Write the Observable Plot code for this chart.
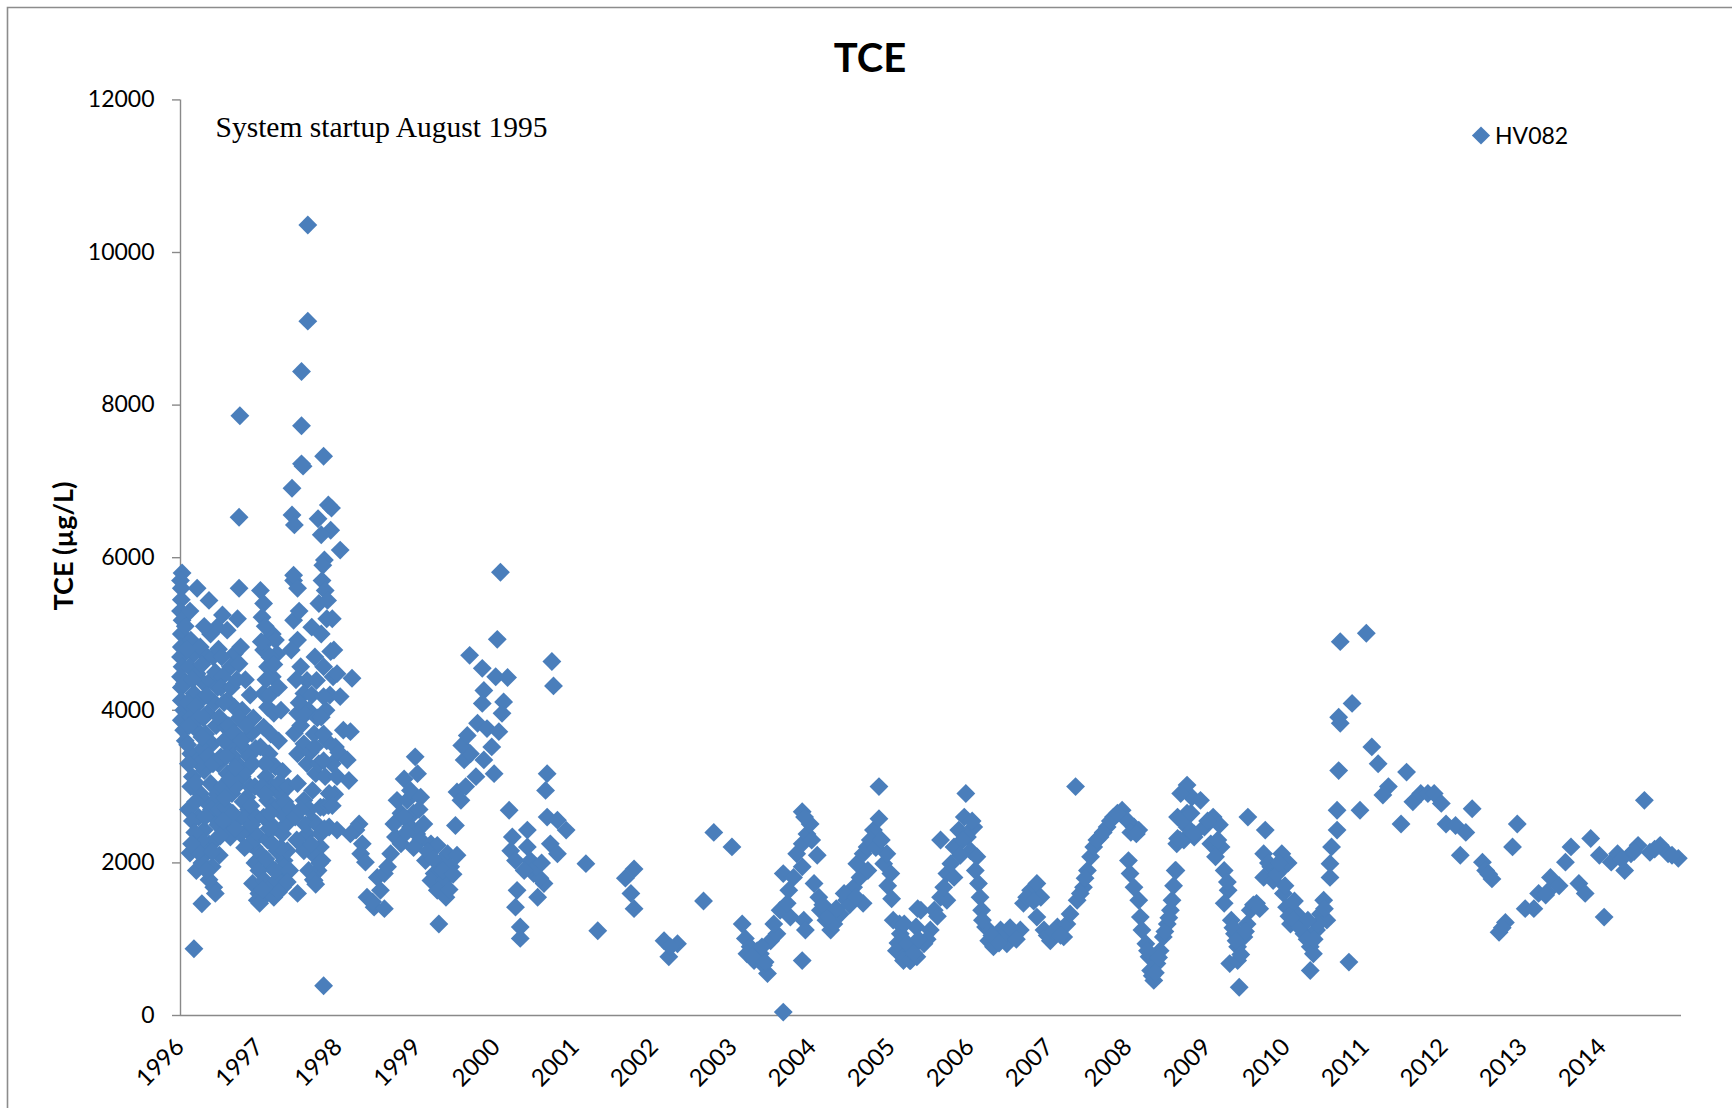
<!DOCTYPE html>
<html><head><meta charset="utf-8">
<script src="https://cdn.jsdelivr.net/npm/d3@7"></script>
<script src="https://cdn.jsdelivr.net/npm/@observablehq/plot@0.6"></script>
<style>
html,body{margin:0;padding:0;background:#fff;}
#chart{position:relative;width:1732px;height:1108px;overflow:hidden;}
</style>
</head><body><div id="chart"></div>
<script>
const chartTitle = "TCE";
const seriesName = "HV082";
const yAxisLabel = "TCE (µg/L)";
const noteText = "System startup August 1995";
const yTicks = [0, 2000, 4000, 6000, 8000, 10000, 12000];
const xTickYears = [1996,1997,1998,1999,2000,2001,2002,2003,2004,2005,2006,2007,2008,2009,2010,2011,2012,2013,2014];

// [decimal year, TCE µg/L]
const hv082_1996 = [
[1996.02,5800],[1996.00,5700],[1996.01,5600],[1996.01,5450],[1996.00,5300],[1996.02,5180],[1996.01,5000],[1996.01,4830],[1996.00,4700],[1996.02,4570],[1996.00,4440],[1996.01,4300],[1996.01,4130],[1996.04,4000],[1996.01,3870],[1996.04,3740],[1996.06,3600],
[1996.13,4920],[1996.17,4740],[1996.11,4570],[1996.21,4480],[1996.17,4220],[1996.13,3910],[1996.21,3740],[1996.13,3430],[1996.21,3340],[1996.15,3130],[1996.13,3000],
[1996.12,2130],[1996.20,1900],[1996.27,1465],[1996.17,875],
[1996.21,5600],[1996.36,5440],[1996.25,4830],[1996.34,4700],[1996.38,5000],[1996.46,5090],[1996.30,4350],[1996.38,4390],[1996.25,4130],[1996.34,3960],[1996.32,3690],[1996.40,3560],[1996.30,3210],[1996.38,3040],[1996.25,2910],[1996.34,2780],[1996.23,2600],[1996.42,2600],[1996.30,2430],[1996.36,2250],[1996.32,2120],[1996.40,1950],[1996.42,1680],[1996.44,1600],[1996.27,2000],[1996.36,1780],
[1996.10,2700],[1996.15,2550],[1996.19,2800],[1996.28,3500],[1996.24,3300],[1996.19,3050],[1996.45,3800],[1996.47,4300],[1996.43,4100],[1996.48,3300],[1996.46,2900],[1996.44,2300],[1996.49,2100],
[1996.06,5100],[1996.08,4800],[1996.05,4350],[1996.09,4100],[1996.10,3300],[1996.09,3550],[1996.11,3800],[1996.15,4400],[1996.19,4050],[1996.23,3900],[1996.27,4600],[1996.29,3900],[1996.33,4200],[1996.27,3650],[1996.35,3400],[1996.41,3300],[1996.43,2800],[1996.39,2700],[1996.31,2600],[1996.26,2300],[1996.22,2150],[1996.18,2400],[1996.14,2250],[1996.33,1900],[1996.40,2150],[1996.47,2500],[1996.49,2700],[1996.41,4700],[1996.44,4500],[1996.48,4800],[1996.30,5100],[1996.12,5300],
[1996.53,5250],[1996.72,5200],[1996.74,5600],[1996.74,6530],[1996.75,7860],[1996.59,5050],[1996.68,4740],[1996.63,4570],[1996.53,4440],[1996.51,4300],[1996.76,4830],[1996.74,4610],[1996.59,4130],[1996.68,4040],[1996.49,3910],[1996.57,3780],[1996.70,3690],[1996.63,3520],[1996.51,3390],[1996.72,3300],[1996.59,3170],[1996.78,3130],[1996.53,3000],[1996.65,2910],[1996.84,2860],[1996.57,2730],[1996.72,2560],[1996.84,2430],[1996.63,2340],[1996.76,2380],[1996.93,2210],[1996.97,2030],[1996.91,1730],[1996.99,1600],[1996.97,1510],
[1996.55,3600],[1996.61,3800],[1996.66,3400],[1996.70,3000],[1996.80,3500],[1996.82,3200],[1996.86,2700],[1996.80,2600],[1996.88,3000],[1996.90,2500],[1996.66,2650],[1996.60,2450],[1996.56,2850],[1996.78,4000],[1996.82,4400],[1996.88,4200],[1996.92,3900],[1996.95,3500],[1996.90,3700],
[1996.52,4700],[1996.55,4100],[1996.58,3400],[1996.62,3100],[1996.64,4300],[1996.67,3700],[1996.69,3250],[1996.71,4400],[1996.74,3900],[1996.77,3600],[1996.79,2800],[1996.83,3800],[1996.86,3400],[1996.89,2750],[1996.91,3300],[1996.94,3000],[1996.96,2600],[1996.98,2350],[1996.94,2000],[1996.88,2250],[1996.81,2200],[1996.69,2450],[1996.54,2550],[1996.50,2350]
];
const hv082_1997 = [
[1997.01,5570],[1997.05,5400],[1997.03,5220],[1997.10,4920],[1997.16,5000],[1997.05,4790],[1997.10,4570],[1997.16,4440],[1997.05,4220],[1997.20,4920],[1997.22,4740],[1997.10,4040],[1997.18,3960],[1997.05,3780],[1997.14,3690],[1997.24,3600],[1997.01,3520],[1997.12,3430],[1997.20,3260],[1997.08,3130],[1997.16,3000],[1997.26,2900],[1997.10,2820],[1997.22,2730],[1997.05,2600],[1997.18,2470],[1997.29,2380],[1997.10,2300],[1997.22,2160],[1997.31,2030],[1997.14,1950],[1997.25,1810],[1997.29,1680],[1997.10,1600],[1997.00,1470],[1997.48,1600],
[1996.99,1900],[1997.06,1770],[1997.14,1680],[1997.18,1550],[1997.22,1770],[1997.27,1860],[1997.31,1950],[1997.35,2160],[1997.27,2200],[1997.20,1900],[1997.03,2100],[1997.12,2450],[1997.33,2500],[1997.28,2650],
[1997.02,4900],[1997.07,5100],[1997.08,4400],[1997.13,4700],[1997.13,4200],[1997.18,4600],[1997.24,4300],[1997.27,4000],[1997.29,3200],[1997.25,3050],[1997.36,3000],[1997.32,2800],[1997.39,2700],[1997.15,3300],[1997.07,3300],[1997.03,3000],[1997.07,2900],[1997.13,2650],[1997.16,2250],[1997.08,2050],[1997.38,1900],[1997.35,1750],[1997.24,1620],[1997.04,1650],
[1997.41,6560],[1997.41,6910],[1997.44,6430],[1997.43,5700],[1997.43,5770],[1997.48,5600],[1997.43,5180],[1997.48,4920],[1997.40,4790],[1997.52,4570],[1997.60,4390],[1997.56,4220],[1997.48,3960],[1997.62,4000],[1997.69,3690],[1997.56,3560],[1997.48,3430],[1997.60,3300],[1997.71,3170],[1997.48,3040],[1997.67,2950],[1997.56,2820],[1997.77,2730],[1997.67,2560],[1997.60,2380],[1997.77,2210],[1997.71,2080],[1997.79,2030],[1997.69,1770],[1997.56,2160],[1997.45,2600],
[1997.46,4400],[1997.50,4100],[1997.44,3700],[1997.52,3800],[1997.58,3950],[1997.64,3450],[1997.66,4200],[1997.73,3900],[1997.75,3300],[1997.63,2700],[1997.52,2700],[1997.58,2500],[1997.73,2500],[1997.65,2250],[1997.74,1900],[1997.85,3600],[1997.92,3300],[1997.95,2900],[1997.84,4000],[1997.89,4200],[1997.85,5200],[1997.92,5200],[1997.70,4700],[1997.50,5300],[1997.47,2300],[1997.62,1900],
[1997.61,10360],[1997.61,9100],[1997.53,8440],[1997.53,7730],[1997.53,7230],[1997.55,7200],[1997.81,7330],[1997.87,6690],[1997.91,6650],[1997.90,6360],[1997.74,6510],[1997.78,6300],
[1997.82,5970],[1997.80,5900],[1997.79,5700],[1997.83,5570],[1997.75,5400],[1997.86,5440],[1997.66,5090],[1997.78,5000],[1997.90,4770],[1997.81,4570],[1997.72,4390],[1997.93,4440],[1997.81,4180],[1997.78,3910],[1997.81,3690],[1997.70,3520],[1997.81,3340],[1997.96,3520],[1997.83,3130],[1997.98,3130],[1997.88,2910],[1997.81,2730],[1997.88,2470],[1997.98,2430],[1997.77,2380],[1997.87,2750],[1997.82,2450],[1997.76,2000],[1997.68,1780],[1997.71,1720],[1997.81,390]
];
const hv082_1998_2000 = [
[1998.02,6100],[1997.94,4790],[1997.98,4480],[1998.17,4420],[1998.02,4180],[1998.06,3740],[1998.15,3720],[1998.00,3450],[1998.11,3350],[1998.13,3080],[1997.92,2750],[1998.26,2510],[1998.22,2430],[1998.30,2250],[1998.28,2120],[1998.34,2010],[1998.15,2380],[1998.36,1550],[1998.45,1420],[1998.43,1490],[1998.49,1810],[1998.53,1640],[1998.58,1860],[1998.58,1400],[1998.62,1950],[1998.66,2120],[1998.72,2340],[1998.70,2510],[1998.79,2250],[1998.79,2650],[1998.74,2820],[1998.83,3100],[1998.87,2820],[1998.91,2950],[1998.95,2650],[1998.91,2470],[1998.97,3390],[1999.00,3170],[1999.04,2860],[1999.08,2510],[1998.99,2380],[1999.04,2300],[1999.17,2250],[1999.25,2230],[1999.10,2030],[1999.38,2120],[1999.50,2100],[1999.29,2010],[1999.21,1860],[1999.17,1770],[1999.34,1770],[1999.42,1950],[1999.36,1550],[1999.25,1640],[1999.27,1200],
[1998.83,2600],[1998.86,2400],[1998.95,2200],[1999.02,2700],[1999.13,2150],[1999.20,2050],[1999.32,1900],[1999.45,1850],[1999.40,1650],
[1999.48,2490],[1999.50,2930],[1999.55,2820],[1999.61,3000],[1999.74,3130],[1999.59,3350],[1999.67,3430],[1999.84,3350],[1999.97,3170],[1999.56,3540],[1999.63,3670],[1999.76,3830],[1999.88,3760],[2000.03,3720],[1999.94,3520],[1999.84,4260],[1999.82,4090],[2000.09,4110],[2000.07,3960],[1999.66,4720],[1999.82,4550],[1999.99,4440],[2000.14,4430],[2000.01,4930],[2000.05,5810],[2000.70,4640],[2000.72,4320],
[2000.16,2690],[2000.20,2340],[2000.39,2430],[2000.18,2160],[2000.24,2030],[2000.39,2210],[2000.47,1860],[2000.60,1730],[2000.26,1640],[2000.24,1420],[2000.30,1160],[2000.30,1010],[2000.52,1550],[2000.43,2030],[2000.64,3170],[2000.62,2950],[2000.64,2600],[2000.77,2560],[2000.88,2430],[2000.68,2250],[2000.77,2120],[2000.55,1800],[2000.50,1950],[2000.35,1900],[2000.57,2000]
];
const hv082_2001_2004 = [
[2001.13,1990],[2001.28,1110],[2001.63,1800],[2001.74,1920],[2001.70,1600],[2001.74,1400],[2002.75,2400],[2002.98,2210],[2002.62,1500],[2002.12,980],[2002.29,940],[2002.18,770],[2002.20,900],
[2003.11,1200],[2003.15,1010],[2003.21,900],[2003.17,810],[2003.26,720],[2003.34,810],[2003.43,550],[2003.38,660],[2003.30,850],[2003.47,980],[2003.55,1070],[2003.51,1200],[2003.59,1380],[2003.72,1290],[2003.68,1470],[2003.63,1860],[2003.70,1640],[2003.76,1810],[2003.87,1950],[2003.80,2120],[2003.87,2250],[2003.93,2380],[2003.99,2300],[2003.97,2510],[2003.87,2670],[2003.90,2600],[2004.06,2100],[2003.63,45],[2003.89,1250],[2003.87,720],[2003.91,1120],[2003.24,770],[2003.40,700],[2003.36,900],
[2004.02,1730],[2004.08,1550],[2004.10,1380],[2004.17,1250],[2004.23,1120],[2004.27,1200],[2004.35,1330],[2004.43,1510],[2004.52,1680],[2004.60,1810],[2004.64,1470],[2004.56,1990],[2004.64,2120],[2004.69,2210],[2004.77,2430],[2004.84,2580],[2004.84,3000],[2004.90,1990],[2004.99,1860],[2004.94,2120],
[2004.13,1450],[2004.20,1300],[2004.30,1400],[2004.40,1600],[2004.47,1450],[2004.55,1550],[2004.70,1900],[2004.73,2300],[2004.80,2200],[2004.87,2300],[2004.95,1700]
];
const hv082_2005_2008 = [
[2005.00,1530],[2005.02,1250],[2005.11,1070],[2005.06,850],[2005.19,810],[2005.27,900],[2005.23,720],[2005.15,720],[2005.33,1400],[2005.31,1160],[2005.08,950],[2005.10,1200],
[2005.16,1200],[2005.20,940],[2005.24,720],[2005.32,770],[2005.41,940],[2005.49,1120],[2005.37,1380],[2005.54,1380],[2005.62,1550],[2005.70,1510],[2005.66,1680],[2005.70,1860],[2005.75,1990],[2005.62,2300],[2005.79,2210],[2005.85,2430],[2005.92,2600],[2005.94,2910],[2006.04,2470],[2005.96,2340],[2005.90,2300],[2005.79,1810],[2006.00,2160],[2006.08,2080],[2006.06,1900],[2006.10,1730],[2006.12,1550],[2006.14,1380],[2006.19,1160],[2006.23,980],[2006.29,900],[2006.38,1120],[2006.46,940],[2006.55,1030],[2006.63,1120],[2006.67,1470],[2006.76,1640],[2006.84,1730],[2006.89,1550],[2006.84,1290],[2006.93,1120],[2007.01,980],[2007.10,1160],[2007.18,1030],[2007.22,1200],[2007.26,1330],[2007.35,1510],[2007.43,1680],[2007.48,1900],[2007.52,2080],[2007.56,2210],[2007.64,2340],[2007.73,2470],[2007.81,2600],[2007.92,2690],[2007.98,2560],[2008.07,2470],[2008.13,2430],[2007.33,3000],
[2008.00,2030],[2008.02,1860],[2008.07,1680],[2008.13,1510],[2008.15,1290],[2008.17,1120],[2008.22,940],[2008.26,770],[2008.28,590],[2008.32,460],[2008.36,680],[2008.40,850],[2008.44,1030],[2008.49,1200],[2008.53,1380],[2008.55,1510],[2008.59,1900],[2008.61,2250],[2008.70,2300],[2008.74,2470],[2008.74,3020],[2008.80,2860],[2008.83,2340],[2008.74,2650],
[2005.45,1000],[2005.58,1300],[2005.87,2100],[2006.02,2550],[2006.33,1000],[2006.42,1050],[2006.50,1150],[2006.58,1000],[2006.71,1550],[2006.80,1500],[2006.97,1050],[2007.05,1100],[2007.14,1050],[2007.39,1600],[2007.45,1800],[2007.60,2300],[2007.68,2400],[2007.77,2550],[2007.86,2650],[2008.03,2400],[2008.10,2380],[2008.24,850],[2008.30,520],[2008.34,560],[2008.38,760],[2008.46,1100],[2008.51,1280],[2008.57,1700],[2008.65,2300],[2008.68,2550],[2006.15,1250],[2006.27,1050],[2006.36,950],[2005.28,820],[2005.34,1000]
];
const hv082_2009_2011 = [
[2008.66,2910],[2008.91,2820],[2008.62,2600],[2008.79,2650],[2009.07,2600],[2008.62,2320],[2008.83,2380],[2008.96,2470],[2009.04,2250],[2009.17,2210],[2009.51,2600],[2008.60,1900],[2009.10,2080],[2009.21,1900],[2009.73,2430],[2009.71,2120],[2009.80,1950],[2009.71,1810],[2009.94,2120],[2009.92,1900],[2009.83,1770],[2009.96,1600],[2009.26,1640],[2009.21,1470],[2009.30,1250],[2009.34,1070],[2009.38,900],[2009.28,680],[2009.40,370],[2009.54,1380],[2009.62,1470],[2009.50,1200],[2009.38,720],[2009.46,1030],
[2010.00,1420],[2010.13,1330],[2010.05,1200],[2010.22,1070],[2010.30,900],[2010.38,1120],[2010.43,1330],[2010.47,1510],[2010.51,1250],[2010.30,590],[2010.79,700],[2010.34,810],[2010.55,1810],[2010.55,1990],[2010.57,2210],[2010.64,2430],[2010.64,2690],[2010.66,3210],[2010.68,3830],[2010.66,3910],[2010.83,4090],[2010.68,4900],[2011.01,5010],[2010.93,2690],[2011.08,3520],[2011.16,3300],
[2009.13,2300],[2009.25,1750],[2009.32,1150],[2009.36,980],[2009.42,800],[2009.48,1100],[2009.58,1450],[2009.66,1400],[2009.77,2000],[2009.87,1850],[2010.03,1300],[2010.09,1250],[2010.17,1150],[2010.26,1000],[2010.35,1000],[2010.40,1200],[2010.27,1250],[2010.10,1500],[2010.48,1400],[2009.98,1700],[2010.02,2000],[2009.90,2000],[2009.15,2500],[2009.00,2550]
];
const hv082_2011_2014 = [
[2011.52,3190],[2011.29,3000],[2011.22,2890],[2011.45,2510],[2011.60,2800],[2011.70,2910],[2011.79,2910],[2011.87,2910],[2011.96,2780],[2012.02,2510],
[2012.35,2710],[2012.14,2490],[2012.27,2400],[2012.20,2100],[2012.92,2510],[2012.86,2210],[2012.48,2010],[2012.52,1900],[2012.60,1790],[2012.77,1220],[2012.69,1090],[2013.02,1400],[2013.13,1400],[2013.19,1600],[2013.30,1620],[2013.34,1810],[2013.45,1700],[2013.53,2010],[2013.60,2210],[2013.70,1730],[2013.78,1600],[2013.85,2320],[2014.02,1290],[2013.96,2100],[2014.11,2010],[2014.19,2120],[2014.28,1900],[2014.36,2120],[2014.45,2230],[2014.53,2820],[2014.60,2140],[2014.73,2230],[2014.83,2120],[2014.96,2060],
[2014.66,2180],[2014.88,2100],[2014.24,2050],[2013.28,1580],[2012.73,1150],[2012.56,1850],[2014.40,2150]
];

function yearToDate(t) {
  const y = Math.floor(t);
  const s = Date.UTC(y, 0, 1), e = Date.UTC(y + 1, 0, 1);
  return new Date(s + (t - y) * (e - s));
}
const samples = [hv082_1996, hv082_1997, hv082_1998_2000, hv082_2001_2004, hv082_2005_2008, hv082_2009_2011, hv082_2011_2014]
  .flat().map(([t, v]) => ({date: yearToDate(t), tce: v}));

const xStart = new Date(Date.UTC(1996, 0, 1));
const xEnd = new Date(Date.UTC(2015, 0, 1));
const blue = "#4A7EBB";
const axisGray = "#898989";

const plot = Plot.plot({
  width: 1732, height: 1108,
  marginLeft: 180, marginRight: 51, marginTop: 99.4, marginBottom: 93,
  style: {fontFamily: "Lato, 'Open Sans', sans-serif", fontSize: "23px", background: "transparent", overflow: "visible", color: "black"},
  x: {type: "utc", domain: [xStart, xEnd], axis: null},
  y: {domain: [0, 12000], axis: null},
  marks: [
    Plot.ruleX([xStart], {stroke: axisGray, strokeWidth: 1.4}),
    Plot.ruleY([0], {stroke: axisGray, strokeWidth: 1.4}),
    Plot.axisY({ticks: yTicks, label: null, tickSize: 8, tickPadding: 18, stroke: axisGray, strokeWidth: 1.4, fill: "black", fontSize: 23, tickFormat: d => String(d)}),
    Plot.dot(samples, {x: "date", y: "tce", symbol: "diamond2", r: 8.5, fill: blue}),
    Plot.text(xTickYears, {x: d => new Date(Date.UTC(d, 0, 1)), text: d => String(d), frameAnchor: "bottom", dx: 5, dy: 33, rotate: -45, textAnchor: "end", lineAnchor: "bottom", fontSize: 24, fill: "black"})
  ]
});
document.getElementById("chart").appendChild(plot);

const svg = d3.select(plot);
// outer chart border (left and top edges visible)
svg.append("path").attr("d", "M7.5,1108 V7.5 H1732").attr("fill", "none").attr("stroke", "#8c8c8c").attr("stroke-width", 1.6);
// title
svg.append("text").attr("x", 870).attr("y", 72).attr("text-anchor", "middle")
  .style("font-family", "Lato, sans-serif").style("font-weight", "bold").style("font-size", "40px").text(chartTitle);
// y-axis title
svg.append("text").attr("transform", "translate(62,546) rotate(-90)").attr("text-anchor", "middle").attr("dominant-baseline", "central")
  .style("font-family", "Lato, sans-serif").style("font-weight", "bold").style("font-size", "27px").text(yAxisLabel);
// annotation
svg.append("text").attr("x", 215.5).attr("y", 137).attr("text-anchor", "start")
  .style("font-family", "'Liberation Serif', 'Times New Roman', serif").style("font-size", "29.5px").text(noteText);
// legend
const legend = svg.append("g");
legend.append("path").attr("d", d3.symbol(d3.symbolDiamond2, Math.PI * 8.2 * 8.2)()).attr("transform", "translate(1481,135.5)").attr("fill", blue);
legend.append("text").attr("x", 1495).attr("y", 144).attr("text-anchor", "start")
  .style("font-family", "Lato, sans-serif").style("font-size", "23px").text(seriesName);
</script>
</body></html>
